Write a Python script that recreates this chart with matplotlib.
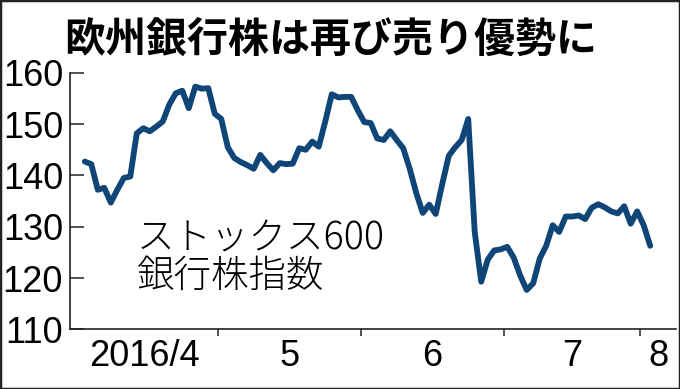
import numpy as np
import matplotlib
matplotlib.use("Agg")
import matplotlib.pyplot as plt
from matplotlib.patches import Rectangle

# ストックス600銀行株指数（営業日ごと、目測）
apr = [142.7, 142.2, 137.2, 137.6, 134.7, 137.2, 139.5, 139.8, 148.2, 149.2, 148.6,
       149.5, 150.5, 153.8, 156.0, 156.5, 153.1, 157.3, 156.9, 157.0, 152.0]
may = [151.0, 145.5, 143.4, 142.6, 142.0, 141.3, 144.0, 142.4, 141.0, 142.4, 142.2,
       142.3, 145.3, 145.0, 146.6, 145.6, 150.5, 155.8, 155.2, 155.3, 155.3, 152.7]
jun = [150.4, 150.2, 147.2, 146.9, 148.6, 146.9, 145.3, 141.3, 136.6, 132.7, 134.3,
       132.5, 138.3, 143.8, 145.5, 146.9, 151.0, 129.0, 119.3, 123.6, 125.4, 125.6]
jul = [126.1, 124.0, 120.5, 117.7, 119.0, 123.8, 126.3, 130.3, 129.0, 132.0, 132.0,
       132.2, 131.5, 133.7, 134.4, 133.8, 133.0, 132.6, 134.0, 130.6, 133.0]
aug = [130.3, 126.3]

months = [apr, may, jun, jul, aug]
month_labels = ["2016/4", "5", "6", "7", "8"]
yticks = [110, 120, 130, 140, 150, 160]

values = np.concatenate(months)
x = np.arange(len(values))
counts = np.array([len(m) for m in months])
bounds = np.cumsum(counts)[:-1] - 0.5

num_font = ["Liberation Sans Narrow", "Liberation Sans", "DejaVu Sans"]
jp_font = ["Noto Sans CJK JP", "DejaVu Sans"]

fig = plt.figure(figsize=(6.8, 3.89), dpi=100)
ax = fig.add_axes([0.103, 0.153, 0.891, 0.66])

ax.plot(x, values, color="#0f4677", lw=4.2, solid_joinstyle="round", solid_capstyle="round")

xmin, xmax = -2.27, 90.96
ax.set_xlim(xmin, xmax)
ax.set_ylim(110, 160)

# 月の区切りに目盛り、ラベルは月の中央
ax.set_xticks(bounds)
ax.set_xticklabels([])
edges = np.concatenate([[xmin], bounds, [xmax]])
centers = (edges[:-1] + edges[1:]) / 2
ax.set_xticks(centers, minor=True)
ax.set_xticklabels(month_labels, minor=True, fontfamily=num_font, fontsize=26)
ax.tick_params(axis="x", which="major", direction="out", length=5, width=1.1, color="#222")
ax.tick_params(axis="x", which="minor", length=0, pad=7)

ax.set_yticks(yticks)
ax.set_yticklabels([str(v) for v in yticks], fontfamily=num_font, fontsize=26)
ax.tick_params(axis="y", direction="in", length=10, width=1.1, color="#222", pad=5)

for s in ["top", "right"]:
    ax.spines[s].set_visible(False)
for s in ["left", "bottom"]:
    ax.spines[s].set_linewidth(1.2)
    ax.spines[s].set_color("#222")

ax.text(0.11, 0.43, "ストックス600\n銀行株指数", transform=ax.transAxes,
        ha="left", va="top", fontsize=27, family=jp_font, fontweight="light",
        linespacing=0.92)

fig.text(0.486, 0.897, "欧州銀行株は再び売り優勢に", ha="center", va="center",
         fontsize=29.5, fontweight="bold", family=jp_font)

fig.patches.append(Rectangle((0, 0), 1, 1, transform=fig.transFigure, fill=False,
                             edgecolor="#222", lw=2.5))

fig.savefig("out.png", dpi=100)
